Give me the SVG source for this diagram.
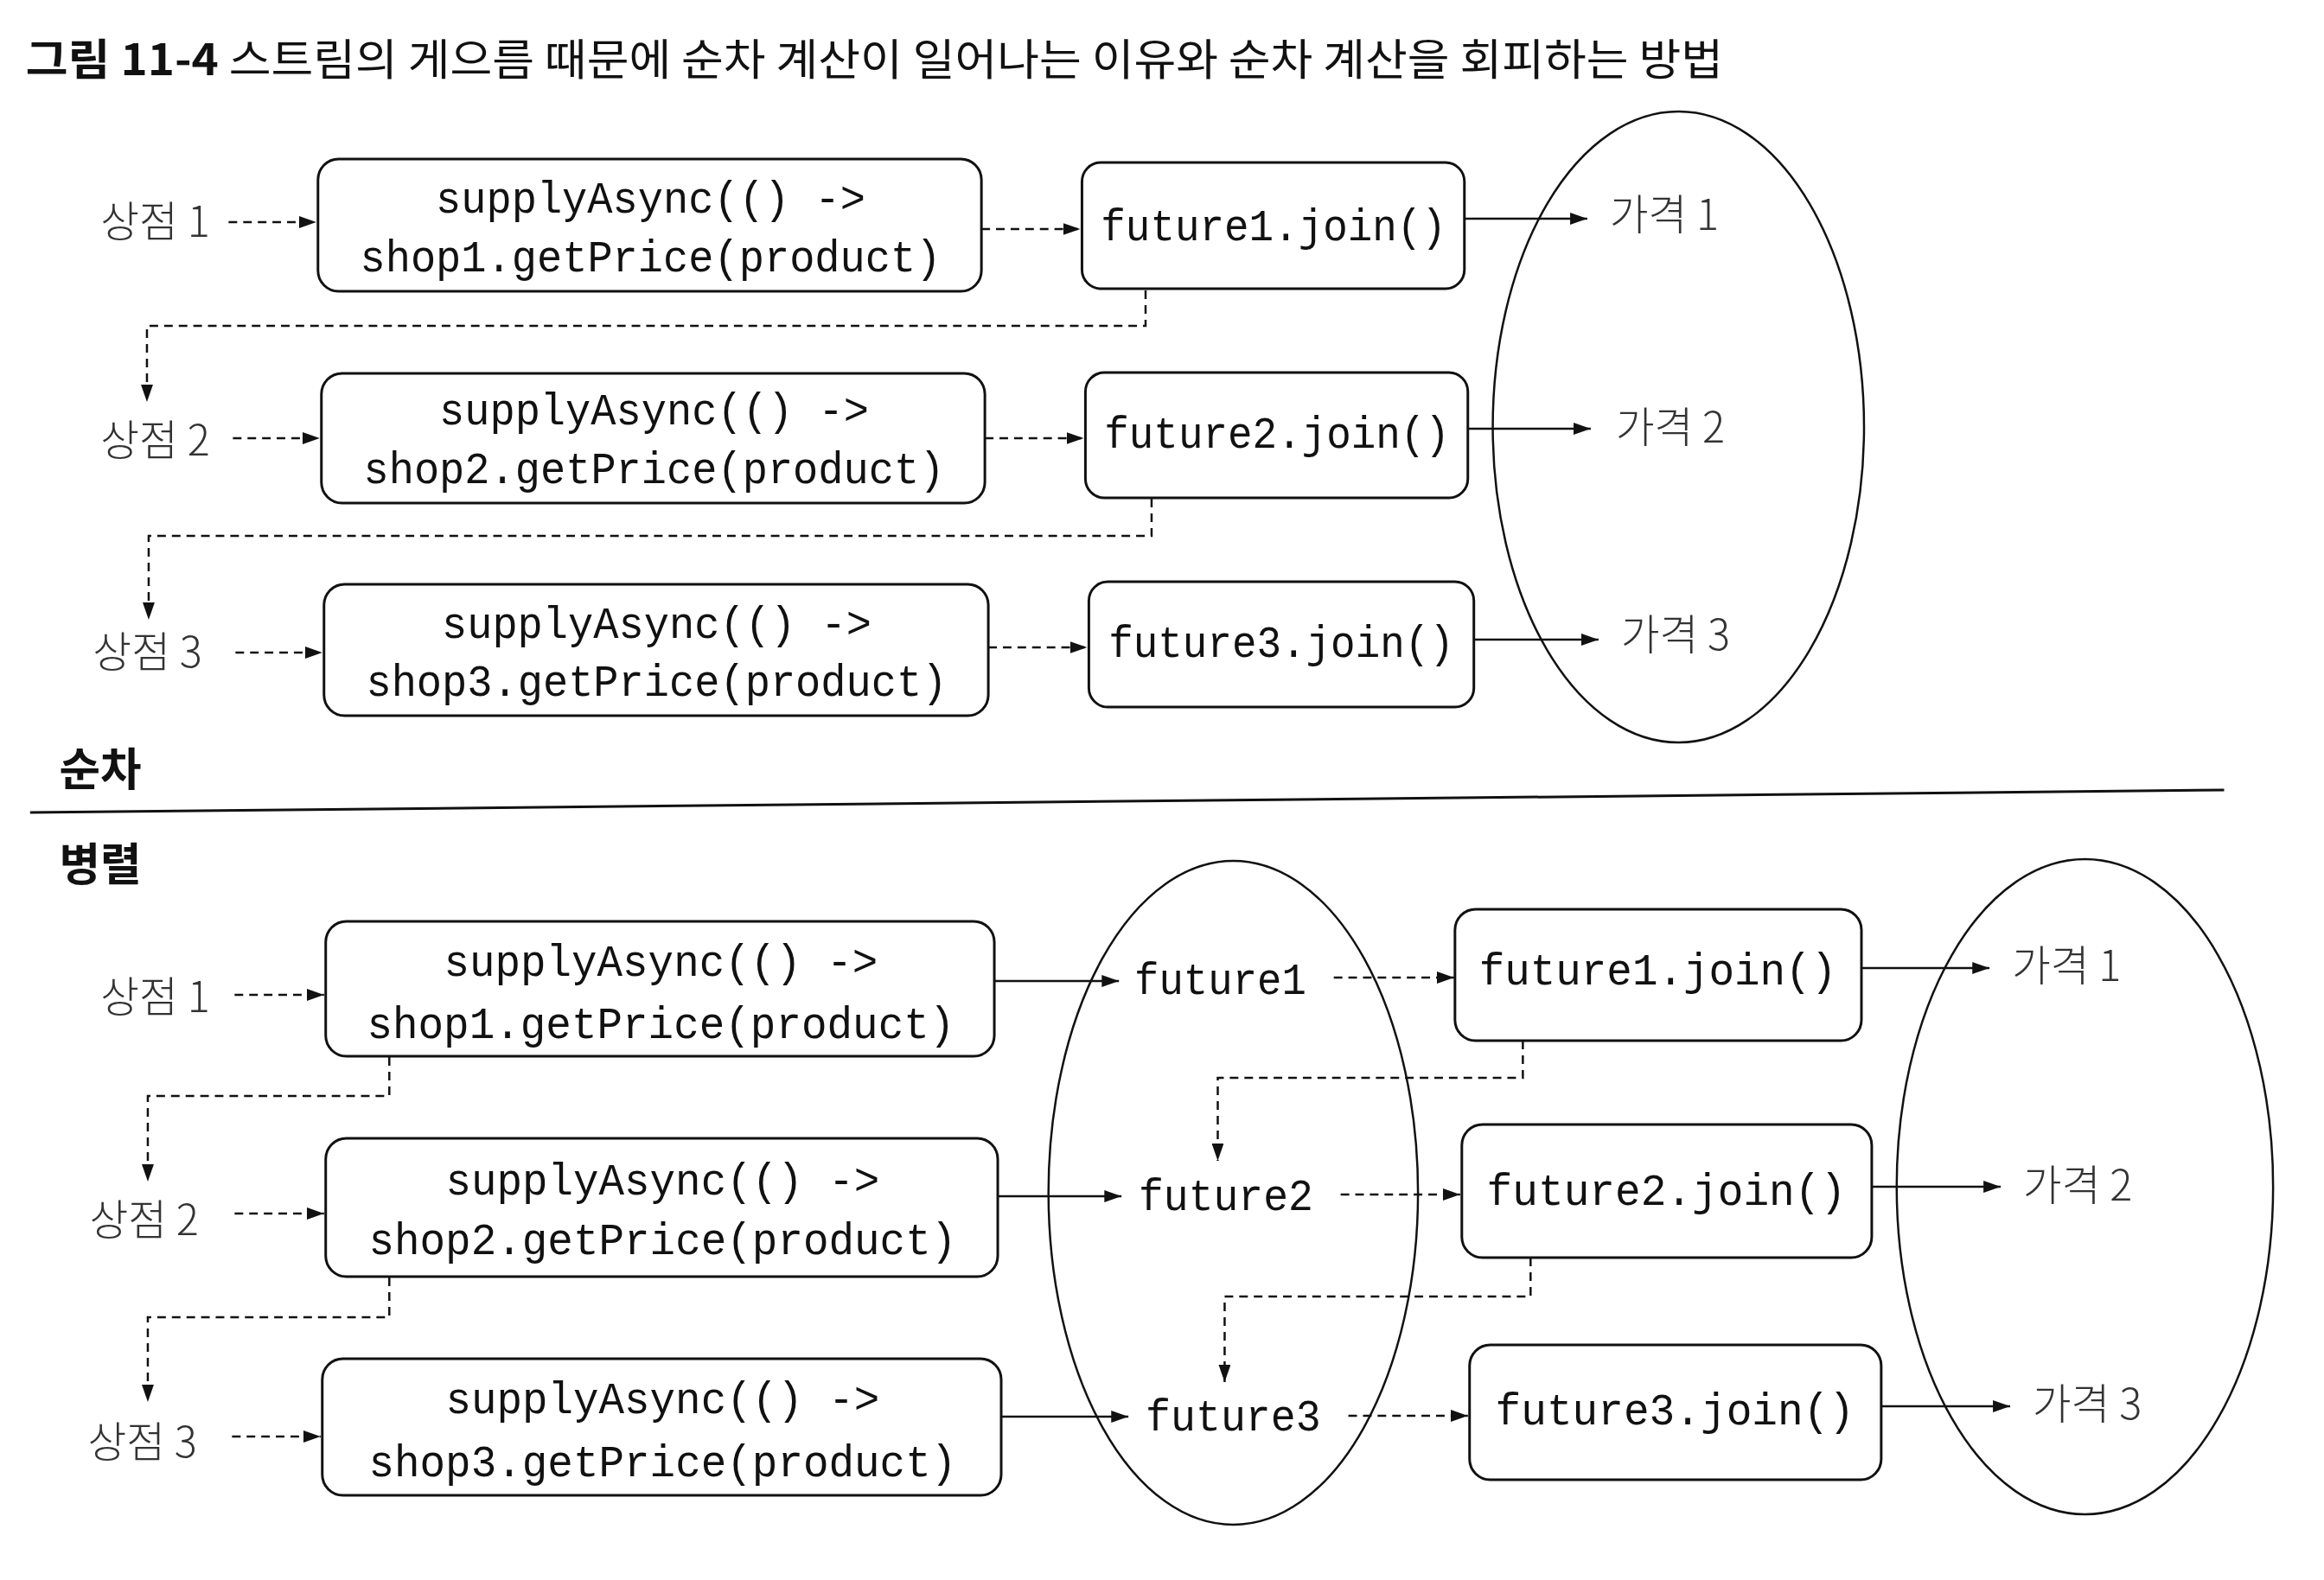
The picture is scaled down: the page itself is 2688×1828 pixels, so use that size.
<svg xmlns="http://www.w3.org/2000/svg" width="2688" height="1828" viewBox="0 0 2688 1828">
<defs>
<marker id="ah" markerUnits="userSpaceOnUse" markerWidth="22" markerHeight="14" refX="20" refY="7" orient="auto">
<path d="M0,0 L20,7 L0,14 Z" fill="#111"/>
</marker>
<style>
.box{fill:#fff;stroke:#111;stroke-width:3}
.ell{fill:none;stroke:#111;stroke-width:2.5}
.code{font-family:"Liberation Mono","DejaVu Sans Mono",monospace;font-size:51px;fill:#111;text-anchor:middle}
.fut{font-family:"Liberation Mono","DejaVu Sans Mono",monospace;font-size:51px;fill:#111}
.lbl{font-family:"Noto Sans CJK KR","Noto Sans",sans-serif;font-size:49px;font-weight:300;fill:#333}
.sec{font-family:"Noto Sans CJK KR","Noto Sans",sans-serif;font-size:52px;font-weight:700;fill:#111}
.dash{fill:none;stroke:#111;stroke-width:2.5;stroke-dasharray:10 7;marker-end:url(#ah)}
.solid{fill:none;stroke:#111;stroke-width:2.5;marker-end:url(#ah)}
</style>
</defs>
<rect width="2688" height="1828" fill="#fff"/>
<g transform="scale(0.994 1)">
<text x="30" y="87" font-family="'Noto Sans CJK KR','Noto Sans',sans-serif" font-size="50" fill="#111" textLength="1975" lengthAdjust="spacingAndGlyphs"><tspan font-weight="700">그림 11-4</tspan> 스트림의 게으름 때문에 순차 계산이 일어나는 이유와 순차 계산을 회피하는 방법</text>

<g id="seq-shop1"><text class="lbl" x="117" y="274">상점 1</text></g>
<g id="seq-shop2"><text class="lbl" x="117" y="527">상점 2</text></g>
<g id="seq-shop3"><text class="lbl" x="108" y="772">상점 3</text></g>

<g id="seq-supply1"><rect class="box" x="370" y="184" width="772" height="153" rx="24"/><text class="code" x="757" y="246" textLength="500" lengthAdjust="spacingAndGlyphs">supplyAsync(() -&gt;</text><text class="code" x="757" y="314" textLength="676" lengthAdjust="spacingAndGlyphs">shop1.getPrice(product)</text></g>
<g id="seq-supply2"><rect class="box" x="374" y="432" width="772" height="150" rx="24"/><text class="code" x="761" y="491" textLength="500" lengthAdjust="spacingAndGlyphs">supplyAsync(() -&gt;</text><text class="code" x="761" y="559" textLength="676" lengthAdjust="spacingAndGlyphs">shop2.getPrice(product)</text></g>
<g id="seq-supply3"><rect class="box" x="377" y="676" width="773" height="152" rx="24"/><text class="code" x="764" y="738" textLength="500" lengthAdjust="spacingAndGlyphs">supplyAsync(() -&gt;</text><text class="code" x="764" y="805" textLength="676" lengthAdjust="spacingAndGlyphs">shop3.getPrice(product)</text></g>

<g id="seq-join1"><rect class="box" x="1259" y="188" width="445" height="146" rx="22"/><text class="code" x="1482" y="278" textLength="402" lengthAdjust="spacingAndGlyphs">future1.join()</text></g>
<g id="seq-join2"><rect class="box" x="1263" y="431" width="445" height="145" rx="22"/><text class="code" x="1486" y="518" textLength="402" lengthAdjust="spacingAndGlyphs">future2.join()</text></g>
<g id="seq-join3"><rect class="box" x="1267" y="673" width="448" height="145" rx="22"/><text class="code" x="1491" y="760" textLength="402" lengthAdjust="spacingAndGlyphs">future3.join()</text></g>

<g id="seq-prices"><ellipse class="ell" cx="1953" cy="494" rx="216" ry="365"/>
<text class="lbl" x="1873" y="266">가격 1</text><text class="lbl" x="1880" y="512">가격 2</text><text class="lbl" x="1886" y="752">가격 3</text></g>

<g id="seq-title"><text class="sec" x="69" y="909">순차</text></g>
<line x1="35" y1="940" x2="2588" y2="914" stroke="#111" stroke-width="3"/>
<g id="par-title"><text class="sec" x="69" y="1019">병렬</text></g>

<g id="par-shop1"><text class="lbl" x="117" y="1171">상점 1</text></g>
<g id="par-shop2"><text class="lbl" x="104" y="1429">상점 2</text></g>
<g id="par-shop3"><text class="lbl" x="102" y="1686">상점 3</text></g>

<g id="par-supply1"><rect class="box" x="379" y="1066" width="778" height="156" rx="24"/><text class="code" x="769" y="1129" textLength="505" lengthAdjust="spacingAndGlyphs">supplyAsync(() -&gt;</text><text class="code" x="769" y="1201" textLength="684" lengthAdjust="spacingAndGlyphs">shop1.getPrice(product)</text></g>
<g id="par-supply2"><rect class="box" x="379" y="1317" width="782" height="160" rx="24"/><text class="code" x="771" y="1382" textLength="505" lengthAdjust="spacingAndGlyphs">supplyAsync(() -&gt;</text><text class="code" x="771" y="1451" textLength="684" lengthAdjust="spacingAndGlyphs">shop2.getPrice(product)</text></g>
<g id="par-supply3"><rect class="box" x="375" y="1572" width="790" height="158" rx="24"/><text class="code" x="771" y="1635" textLength="505" lengthAdjust="spacingAndGlyphs">supplyAsync(() -&gt;</text><text class="code" x="771" y="1708" textLength="684" lengthAdjust="spacingAndGlyphs">shop3.getPrice(product)</text></g>

<g id="par-futures"><ellipse class="ell" cx="1435" cy="1380" rx="215" ry="384"/>
<text class="fut" x="1320" y="1150" textLength="200" lengthAdjust="spacingAndGlyphs">future1</text><text class="fut" x="1325" y="1400" textLength="203" lengthAdjust="spacingAndGlyphs">future2</text><text class="fut" x="1333" y="1655" textLength="204" lengthAdjust="spacingAndGlyphs">future3</text></g>

<g id="par-join1"><rect class="box" x="1693" y="1052" width="473" height="152" rx="24"/><text class="code" x="1929" y="1139" textLength="416" lengthAdjust="spacingAndGlyphs">future1.join()</text></g>
<g id="par-join2"><rect class="box" x="1701" y="1301" width="477" height="154" rx="24"/><text class="code" x="1939" y="1394" textLength="418" lengthAdjust="spacingAndGlyphs">future2.join()</text></g>
<g id="par-join3"><rect class="box" x="1710" y="1556" width="479" height="156" rx="24"/><text class="code" x="1949" y="1648" textLength="418" lengthAdjust="spacingAndGlyphs">future3.join()</text></g>

<g id="par-prices"><ellipse class="ell" cx="2426" cy="1373" rx="219" ry="379"/>
<text class="lbl" x="2341" y="1135">가격 1</text><text class="lbl" x="2354" y="1389">가격 2</text><text class="lbl" x="2365" y="1642">가격 3</text></g>

<g id="connectors">
<path class="dash" d="M266,257 H368"/>
<path class="dash" d="M271,507 H372"/>
<path class="dash" d="M274,755 H375"/>
<path class="dash" d="M1142,265 H1257"/>
<path class="dash" d="M1146,507 H1261"/>
<path class="dash" d="M1150,749 H1265"/>
<path class="solid" d="M1704,253 H1847"/>
<path class="solid" d="M1708,496 H1851"/>
<path class="solid" d="M1715,740 H1860"/>
<path class="dash" d="M1333,336 V377 H171 V465"/>
<path class="dash" d="M1340,577 V620 H173 V717"/>

<path class="dash" d="M273,1151 H377"/>
<path class="dash" d="M273,1404 H377"/>
<path class="dash" d="M270,1662 H373"/>
<path class="dash" d="M453,1223 V1268 H172 V1367"/>
<path class="dash" d="M453,1478 V1524 H172 V1622"/>
<path class="solid" d="M1157,1135 H1302"/>
<path class="solid" d="M1162,1384 H1305"/>
<path class="solid" d="M1166,1639 H1313"/>
<path class="dash" d="M1552,1131 H1692"/>
<path class="dash" d="M1560,1382 H1699"/>
<path class="dash" d="M1569,1638 H1708"/>
<path class="dash" d="M1772,1204 V1247 H1417 V1343"/>
<path class="dash" d="M1781,1455 V1500 H1425 V1599"/>
<path class="solid" d="M2166,1120 H2315"/>
<path class="solid" d="M2178,1373 H2328"/>
<path class="solid" d="M2189,1627 H2339"/>
</g>
</g>
</svg>
